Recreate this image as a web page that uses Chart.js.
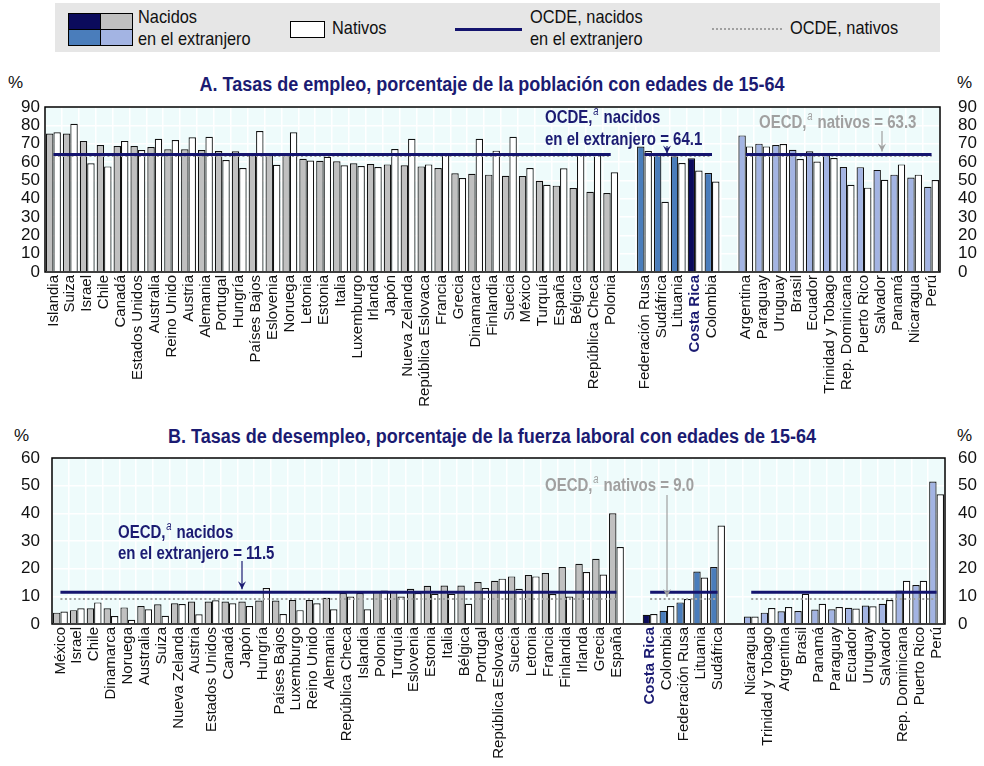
<!DOCTYPE html>
<html>
<head>
<meta charset="utf-8">
<script src="https://cdn.jsdelivr.net/npm/chart.js@4.4.1/dist/chart.umd.min.js"></script>
<style>
  body { margin:0; width:984px; height:766px; background:#fff; position:relative; overflow:hidden;
         font-family:"Liberation Sans",Arial,sans-serif; color:#111; }
  .abs { position:absolute; white-space:nowrap; }
  #legend { left:55px; top:3px; width:885px; height:49px; background:#e6e6e6; }
  .sw { position:absolute; border:1px solid #000; box-sizing:border-box; }
  .lt { font-size:19px; line-height:22px; transform:scaleX(0.86); transform-origin:0 0; }
  .title { font-weight:bold; font-size:20px; color:#1b1b72; transform:scaleX(0.9); transform-origin:50% 0; }
  .pct { font-size:17px; }
  canvas { position:absolute; left:0; }
</style>
</head>
<body>
<div id="legend" class="abs"></div>
<div class="sw" style="left:68px;top:13px;width:33px;height:17px;background:#0b0b5c"></div>
<div class="sw" style="left:100px;top:13px;width:33px;height:17px;background:#c0c0c0"></div>
<div class="sw" style="left:68px;top:29px;width:33px;height:17px;background:#4a7dbb"></div>
<div class="sw" style="left:100px;top:29px;width:33px;height:17px;background:#a3b4e3"></div>
<div class="abs lt" style="left:138px;top:6px">Nacidos<br>en el extranjero</div>
<div class="sw" style="left:290px;top:21px;width:35px;height:17px;background:#fff"></div>
<div class="abs lt" style="left:332px;top:17px">Nativos</div>
<div class="abs" style="left:455px;top:28px;width:67px;height:3px;background:#14146e"></div>
<div class="abs lt" style="left:530px;top:6px">OCDE, nacidos<br>en el extranjero</div>
<div class="abs" style="left:712px;top:28px;width:70px;height:0;border-top:2px dotted #a0a0a0"></div>
<div class="abs lt" style="left:790px;top:17px">OCDE, nativos</div>

<div class="abs pct" style="left:8px;top:73px">%</div>
<div class="abs pct" style="left:957px;top:73px">%</div>
<div class="abs title" style="left:0;width:984px;text-align:center;top:73px">A. Tasas de empleo, porcentaje de la población con edades de 15-64</div>

<div class="abs pct" style="left:14px;top:426px">%</div>
<div class="abs pct" style="left:957px;top:426px">%</div>
<div class="abs title" style="left:0;width:984px;text-align:center;top:425px">B. Tasas de desempleo, porcentaje de la fuerza laboral con edades de 15-64</div>

<canvas id="chartA" width="984" height="360" style="top:60px"></canvas>
<canvas id="chartB" width="984" height="346" style="top:420px"></canvas>

<script>
// ---------- Panel A: employment rates (% of population aged 15-64) ----------
const empOecdNames = ['Islandia','Suiza','Israel','Chile','Canadá','Estados Unidos','Australia','Reino Unido','Austria','Alemania','Portugal','Hungría','Países Bajos','Eslovenia','Noruega','Letonia','Estonia','Italia','Luxemburgo','Irlanda','Japón','Nueva Zelanda','República Eslovaca','Francia','Grecia','Dinamarca','Finlandia','Suecia','México','Turquía','España','Bélgica','República Checa','Polonia'];
const empOecdForeign = [75.5,75.5,71.5,69.3,68.7,68.7,68.2,66.9,66.9,66.5,66.0,65.8,64.5,64.3,64.0,61.8,60.7,60.4,59.3,58.9,58.7,58.2,57.6,56.7,53.8,53.6,53.1,52.5,52.4,49.8,47.1,45.8,43.8,43.1];
const empOecdNative  = [76.2,80.9,59.3,57.6,71.5,66.5,72.7,72.0,73.5,73.8,61.1,56.7,76.9,58.5,76.2,60.8,62.9,58.2,57.8,57.3,67.1,72.7,58.7,64.3,51.3,72.7,66.2,73.8,56.7,47.6,56.6,64.4,64.4,54.4];

const empOtherNames   = ['Federación Rusa','Sudáfrica','Lituania','Costa Rica','Colombia'];
const empOtherForeign = [68.4,64.2,63.1,62.1,54.0];
const empOtherNative  = [66.0,38.3,59.4,55.3,49.3];

const empLatamNames   = ['Argentina','Paraguay','Uruguay','Brasil','Ecuador','Trinidad y Tobago','Rep. Dominicana','Puerto Rico','Salvador','Panamá','Nicaragua','Perú'];
const empLatamForeign = [74.5,70.0,69.3,66.7,65.8,64.0,57.3,57.2,55.7,53.1,51.5,46.5];
const empLatamNative  = [68.5,68.5,69.8,61.6,60.3,62.2,47.6,46.0,50.3,58.7,53.1,50.2];

const empOecdAvgForeign = 64.1;
const empOecdAvgNative  = 63.3;
const empTicks = [0,10,20,30,40,50,60,70,80,90];

// ---------- Panel B: unemployment rates (% of labour force aged 15-64) ----------
const unOecdNames = ['México','Israel','Chile','Dinamarca','Noruega','Australia','Suiza','Nueva Zelanda','Austria','Estados Unidos','Canadá','Japón','Hungría','Países Bajos','Luxemburgo','Reino Unido','Alemania','República Checa','Islandia','Polonia','Turquía','Eslovenia','Estonia','Italia','Bélgica','Portugal','República Eslovaca','Suecia','Letonia','Francia','Finlandia','Irlanda','Grecia','España'];
const unOecdForeign = [4.1,5.0,5.7,5.7,6.0,6.5,7.1,7.5,8.1,8.1,8.1,8.1,8.5,8.5,8.7,8.7,9.5,11.2,11.2,11.8,11.8,12.7,13.8,13.9,13.9,15.2,15.6,17.2,17.7,18.4,20.6,21.8,23.6,40.0];
const unOecdNative  = [4.5,5.7,7.8,2.9,1.5,5.3,3.0,7.2,3.5,8.6,7.5,6.5,13.0,3.6,5.0,7.5,5.3,9.9,5.3,12.1,9.9,11.2,10.9,10.9,7.3,13.0,16.4,12.7,17.2,10.8,9.9,18.8,17.9,27.8];

const unOtherNames   = ['Costa Rica','Colombia','Federación Rusa','Lituania','Sudáfrica'];
const unOtherForeign = [3.3,4.8,7.8,19.0,20.6];
const unOtherNative  = [3.6,6.5,9.0,16.8,35.6];

const unLatamNames   = ['Nicaragua','Trinidad y Tobago','Argentina','Brasil','Panamá','Paraguay','Ecuador','Uruguay','Salvador','Rep. Dominicana','Puerto Rico','Perú'];
const unLatamForeign = [2.7,4.1,4.6,4.7,5.2,5.3,5.9,6.7,7.3,12.1,14.1,51.5];
const unLatamNative  = [2.7,5.8,6.1,10.9,7.3,6.1,5.6,6.4,8.7,15.6,15.6,46.9];

const unOecdAvgForeign = 11.5;
const unOecdAvgNative  = 9.0;
const unTicks = [0,10,20,30,40,50,60];

// ---------- styling ----------
const HIGHLIGHT = 'Costa Rica';
const C_GRAY = '#c0c0c0', C_BLUE = '#4a7dbb', C_NAVYBAR = '#0b0b5c', C_LIGHT = '#a3b4e3';
const C_LINE = '#14146e', C_DOT = '#a0a0a0', C_PLOT = '#eefbfb', C_TEXT = '#1b1b72';
const SANS = '"Liberation Sans",Arial,sans-serif';
const NOTE_SQUEEZE = 0.79;   // condensed look of the call-out text

// Lay the three country groups side by side, with one empty slot between groups
function buildPanel(groups, avgForeign, avgNative) {
  const labels = [], foreign = [], native = [], colors = [], lineF = [], lineN = [];
  groups.forEach((g, gi) => {
    if (gi > 0) { labels.push(''); foreign.push(null); native.push(null); colors.push(C_GRAY); lineF.push(null); lineN.push(null); }
    g.names.forEach((n, i) => {
      labels.push(n);
      foreign.push(g.foreign[i]);
      native.push(g.native[i]);
      colors.push(n === HIGHLIGHT ? C_NAVYBAR : g.color);
      lineF.push(avgForeign);
      lineN.push(avgNative);
    });
  });
  return { labels, foreign, native, colors, lineF, lineN };
}

// Plot background, frame and the average call-outs
const framePlugin = {
  id: 'frame',
  beforeDraw(chart) {
    const { ctx, chartArea: a } = chart;
    ctx.save();
    ctx.fillStyle = C_PLOT;
    ctx.fillRect(a.left, a.top, a.right - a.left, a.bottom - a.top);
    ctx.restore();
  },
  afterDraw(chart, args, opts) {
    const { ctx, chartArea: a } = chart;
    ctx.save();
    ctx.strokeStyle = '#000';
    ctx.lineWidth = 1.5;
    ctx.strokeRect(a.left, a.top, a.right - a.left, a.bottom - a.top);
    (opts.notes || []).forEach(n => {
      ctx.fillStyle = n.color;
      ctx.textBaseline = 'alphabetic';
      n.lines.forEach((parts, li) => {
        ctx.save();
        ctx.translate(n.x, n.y + li * n.lh);
        ctx.scale(NOTE_SQUEEZE, 1);
        let x = 0;
        parts.forEach(p => {
          if (p.sup) {
            ctx.font = 'italic 12px ' + SANS;
            ctx.fillText(p.t, x + 1, -8);
            x += ctx.measureText(p.t).width + 2;
          } else {
            ctx.font = 'bold 19px ' + SANS;
            ctx.fillText(p.t, x, 0);
            x += ctx.measureText(p.t).width;
          }
        });
        ctx.restore();
      });
      // arrow pointing at the average line
      const tip = chart.scales.y.getPixelForValue(n.arrow.value) - n.arrow.gap;
      ctx.strokeStyle = n.color;
      ctx.fillStyle = n.color;
      ctx.lineWidth = 1.2;
      ctx.beginPath();
      ctx.moveTo(n.arrow.x, n.arrow.y0);
      ctx.lineTo(n.arrow.x, tip);
      ctx.stroke();
      ctx.beginPath();
      ctx.moveTo(n.arrow.x - 4, tip - 8);
      ctx.lineTo(n.arrow.x, tip);
      ctx.lineTo(n.arrow.x + 4, tip - 8);
      ctx.lineTo(n.arrow.x, tip - 5);
      ctx.closePath();
      ctx.fill();
    });
    ctx.restore();
  }
};

function makeChart(id, panel, max, ticks, dims, notes) {
  const tickFont = { family: SANS, size: 17 };
  const yAxis = (pos, w, pad) => ({
    position: pos, min: 0, max: max,
    afterBuildTicks: s => { s.ticks = ticks.map(v => ({ value: v })); },
    afterFit: s => { s.width = w; },
    ticks: { font: tickFont, color: '#111', padding: pad, autoSkip: false },
    grid: { display: pos === 'left', color: '#ffffff', lineWidth: 1.5, drawTicks: false },
    border: { display: false }
  });
  return new Chart(document.getElementById(id), {
    type: 'bar',
    data: {
      labels: panel.labels,
      datasets: [
        { type: 'line', label: 'OCDE, nacidos en el extranjero', data: panel.lineF, borderColor: C_LINE, borderWidth: 3,
          pointRadius: 0, spanGaps: false, order: 1, yAxisID: 'y' },
        { type: 'line', label: 'OCDE, nativos', data: panel.lineN, borderColor: C_DOT, borderWidth: 2, borderDash: [2, 2.5],
          pointRadius: 0, spanGaps: false, order: 2, yAxisID: 'y' },
        { label: 'Nacidos en el extranjero', data: panel.foreign, backgroundColor: panel.colors, borderColor: '#111',
          borderWidth: 1.2, barPercentage: 1.0, categoryPercentage: 0.88, order: 3, yAxisID: 'y' },
        { label: 'Nativos', data: panel.native, backgroundColor: '#ffffff', borderColor: '#111',
          borderWidth: 1.2, barPercentage: 1.0, categoryPercentage: 0.88, order: 3, yAxisID: 'y' }
      ]
    },
    options: {
      responsive: false, animation: false, devicePixelRatio: 1,
      layout: { padding: { top: dims.top, left: 0, right: 0, bottom: 0 } },
      plugins: { legend: { display: false }, tooltip: { enabled: false }, frame: { notes } },
      scales: {
        x: {
          afterFit: s => { s.height = dims.xh; },
          grid: { offset: true, color: '#ffffff', lineWidth: 1.5, drawTicks: false },
          border: { display: false },
          ticks: {
            autoSkip: false, minRotation: 90, maxRotation: 90, padding: 3,
            color: c => panel.labels[c.index] === HIGHLIGHT ? C_TEXT : '#111',
            font: c => panel.labels[c.index] === HIGHLIGHT
              ? { family: SANS, size: 15, weight: 'bold' } : { family: SANS, size: 15 }
          }
        },
        y: yAxis('left', dims.lw, dims.lp),
        y2: yAxis('right', dims.rw, dims.rp)
      }
    },
    plugins: [framePlugin]
  });
}

const panelA = buildPanel([
  { names: empOecdNames,  foreign: empOecdForeign,  native: empOecdNative,  color: C_GRAY },
  { names: empOtherNames, foreign: empOtherForeign, native: empOtherNative, color: C_BLUE },
  { names: empLatamNames, foreign: empLatamForeign, native: empLatamNative, color: C_LIGHT }
], empOecdAvgForeign, empOecdAvgNative);

const panelB = buildPanel([
  { names: unOecdNames,  foreign: unOecdForeign,  native: unOecdNative,  color: C_GRAY },
  { names: unOtherNames, foreign: unOtherForeign, native: unOtherNative, color: C_BLUE },
  { names: unLatamNames, foreign: unLatamForeign, native: unLatamNative, color: C_LIGHT }
], unOecdAvgForeign, unOecdAvgNative);

makeChart('chartA', panelA, 90, empTicks,
  { top: 47, xh: 148, lw: 45, lp: 5, rw: 44, rp: 18 },
  [
    { x: 545, y: 63, lh: 22, color: C_TEXT,
      lines: [[{ t: 'OCDE,' }, { t: 'a', sup: true }, { t: ' nacidos' }], [{ t: 'en el extranjero = ' + empOecdAvgForeign.toFixed(1) }]],
      arrow: { x: 667, y0: 86, value: empOecdAvgForeign, gap: 1 } },
    { x: 759, y: 68, lh: 0, color: C_DOT,
      lines: [[{ t: 'OECD,' }, { t: 'a', sup: true }, { t: ' nativos = ' + empOecdAvgNative.toFixed(1) }]],
      arrow: { x: 882, y0: 71, value: empOecdAvgForeign, gap: 3 } }
  ]);

makeChart('chartB', panelB, 60, unTicks,
  { top: 38, xh: 142, lw: 52, lp: 12, rw: 39, rp: 13 },
  [
    { x: 118, y: 118, lh: 21, color: C_TEXT,
      lines: [[{ t: 'OECD,' }, { t: 'a', sup: true }, { t: ' nacidos' }], [{ t: 'en el extranjero = ' + unOecdAvgForeign.toFixed(1) }]],
      arrow: { x: 242, y0: 141, value: unOecdAvgForeign, gap: 3 } },
    { x: 545, y: 71, lh: 0, color: C_DOT,
      lines: [[{ t: 'OECD,' }, { t: 'a', sup: true }, { t: ' nativos = ' + unOecdAvgNative.toFixed(1) }]],
      arrow: { x: 667, y0: 75, value: unOecdAvgNative, gap: 2 } }
  ]);
</script>
</body>
</html>
